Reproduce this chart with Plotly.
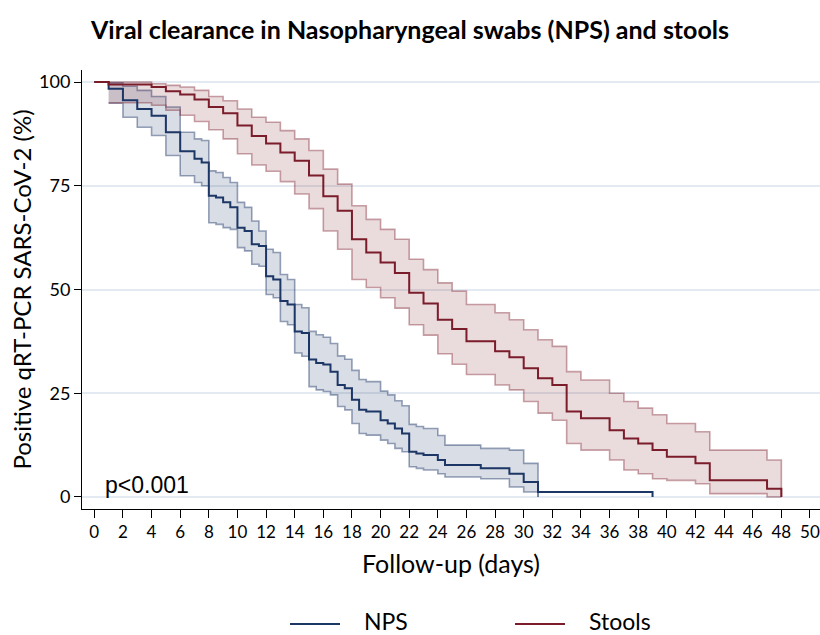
import plotly.graph_objects as go

# Kaplan-Meier estimates (days, % still positive)
nps_days = [0, 1, 2, 3, 4, 5, 6, 7, 7.5, 8, 8.5, 9, 9.5, 10, 10.5, 11, 11.5, 12, 12.5, 13, 13.5,
            14, 14.5, 15, 15.5, 16, 16.5, 17, 17.5, 18, 18.5, 19, 20, 20.5, 21, 21.5, 22, 22.5,
            23, 24, 24.5, 27, 29, 30, 31, 39]
nps_surv = [100, 98.4, 95.6, 93.5, 91.9, 87.9, 83.3, 81.5, 80.6, 72.6, 72.2, 71, 69.8, 64.9, 64.1,
            60.9, 60.5, 53.2, 52.4, 47.2, 46.4, 39.9, 39.5, 33.1, 32.3, 31.9, 30.2, 27, 26.2, 23.4,
            21, 20.6, 18.5, 17.7, 16.5, 15.3, 10.9, 10.5, 10.1, 8.9, 7.7, 6.9, 5.6, 3.6, 1.2, 0]

nps_ci_days = nps_days[1:-1]
nps_upper = [99.8, 99, 98, 96.5, 94, 87.9, 86.3, 85.9, 78.6, 78.2, 77, 75.8, 71, 69.8, 66.5, 64.1,
             59.7, 58.9, 53.6, 52.4, 46.4, 45.6, 39.9, 39.1, 38.5, 37, 34, 33.2, 30.5, 28.3, 27.8,
             25.5, 24.6, 23.2, 22, 17.5, 17, 16.5, 14.8, 12.5, 11.7, 11.3, 8.1, 0]
nps_lower = [94.9, 91.5, 89.1, 87.1, 82.3, 77.4, 75.8, 75.0, 66.1, 65.7, 64.9, 64.5, 60.1, 59.3,
             56.1, 55.6, 48.8, 48, 42.3, 41.5, 34.7, 33.9, 26.6, 25.8, 25.4, 24.6, 21.8, 21, 17.7,
             15.3, 14.9, 13.7, 12.9, 11.7, 10.9, 7.3, 6.9, 6.5, 5.6, 4.8, 4.4, 2.4, 1.2, 0]

stool_days = [0, 1, 4, 5, 6, 7, 8, 9, 10, 11, 12, 13, 14, 15, 16, 17, 18, 19, 20, 21, 22, 23, 24,
              25, 26, 28, 29, 30, 31, 32, 33, 34, 36, 37, 38, 39, 40, 42, 43, 47, 48]
stool_surv = [100, 99.4, 98.8, 97.8, 97, 95.8, 94, 92.5, 89.5, 87, 85.2, 83, 81, 77.5, 72.5, 69,
              62.1, 58.9, 56.5, 54, 49.2, 46.6, 42.7, 40.5, 37.5, 35.1, 33.7, 31, 28.6, 27, 20.6,
              19, 16.1, 14.1, 12.9, 11.3, 9.7, 8.1, 4, 2, 0]

stool_ci_days = stool_days[1:]
stool_upper = [100, 99.6, 99.2, 98.8, 98, 96.5, 95.5, 93.5, 91.5, 90.3, 88.3, 86.3, 83.5, 79, 75.4,
               70.2, 66.9, 64.5, 62.1, 57.3, 54.8, 51.6, 49.6, 46.4, 44.4, 42.7, 40.3, 37.9, 36.3,
               30.2, 28.2, 25, 23, 21.4, 19.8, 17.7, 15.7, 11.3, 8.9, 0]
stool_lower = [95, 94.4, 93.2, 92, 90.5, 88.5, 86.3, 82.7, 80, 78.5, 76, 73, 69.5, 64.1, 59.7, 52.4,
               50.5, 48, 45.5, 41.5, 39, 34.5, 32, 29.5, 27, 25.8, 23, 20.2, 18.5, 12.9, 11.3, 8.9,
               6.5, 5.6, 4.4, 4, 3.2, 0.8, 0, 0]

x_ticks = list(range(0, 51, 2))
y_ticks = [0, 25, 50, 75, 100]
legend_names = ["NPS", "Stools"]

NAVY = "#1c3666"
NAVY_EDGE = "rgba(28,54,102,0.45)"
NAVY_FILL = "rgba(28,54,102,0.17)"
RED = "#7b1c2a"
RED_EDGE = "rgba(123,28,42,0.40)"
RED_FILL = "rgba(123,28,42,0.16)"
FONT = "Lato"

# figure and plot area in pixels
W, H = 820, 635
L, R, T, B = 82, 820, 70, 509


def px_x(px):
    return (px - L) / (R - L)


def px_y(py):
    return (B - py) / (B - T)


fig = go.Figure()


def add_band(days, lower, upper, edge, fill):
    fig.add_trace(go.Scatter(x=days, y=lower, mode="lines", line=dict(shape="hv", color=edge, width=1.6),
                             showlegend=False, hoverinfo="skip"))
    fig.add_trace(go.Scatter(x=days, y=upper, mode="lines", line=dict(shape="hv", color=edge, width=1.6),
                             fill="tonexty", fillcolor=fill, showlegend=False, hoverinfo="skip"))


add_band(nps_ci_days, nps_lower, nps_upper, NAVY_EDGE, NAVY_FILL)
add_band(stool_ci_days, stool_lower, stool_upper, RED_EDGE, RED_FILL)

fig.add_trace(go.Scatter(x=nps_days, y=nps_surv, mode="lines", name=legend_names[0],
                         line=dict(shape="hv", color=NAVY, width=2), showlegend=False))
fig.add_trace(go.Scatter(x=stool_days, y=stool_surv, mode="lines", name=legend_names[1],
                         line=dict(shape="hv", color=RED, width=2), showlegend=False))

fig.add_annotation(x=0.6, y=3, xref="x", yref="y", text="p<0.001", showarrow=False,
                   xanchor="left", yanchor="middle",
                   font=dict(family="Liberation Sans", size=23, color="black"))

# hand-drawn legend below the plot
for name, color, x0 in zip(legend_names, [NAVY, RED], [290, 515]):
    fig.add_shape(type="line", xref="paper", yref="paper",
                  x0=px_x(x0), x1=px_x(x0 + 50), y0=px_y(624), y1=px_y(624),
                  line=dict(color=color, width=2))
    fig.add_annotation(x=px_x(x0 + 72), y=px_y(621), xref="paper", yref="paper", text=name,
                       showarrow=False, xanchor="left", yanchor="middle",
                       font=dict(family=FONT, size=23, color="black"))

fig.update_layout(
    width=W, height=H,
    margin=dict(l=L, r=W - R, t=T, b=H - B),
    paper_bgcolor="white", plot_bgcolor="white",
    font=dict(family=FONT, color="black"),
    showlegend=False,
    title=dict(text="<b>Viral clearance in Nasopharyngeal swabs (NPS) and stools</b>",
               x=410 / W, xref="container", xanchor="center", y=1 - 30 / H,
               yanchor="middle", font=dict(family=FONT, size=25, color="black")),
    xaxis=dict(range=[-0.86, 50.7], tickvals=x_ticks, showgrid=False, zeroline=False,
               showline=True, linecolor="black", linewidth=1, ticks="outside", ticklen=8,
               tickcolor="black", tickfont=dict(size=17), automargin=False,
               title=dict(text="Follow-up (days)", font=dict(size=25), standoff=14)),
    yaxis=dict(range=[-2.9, 102.9], tickvals=y_ticks, showgrid=True, gridcolor="#e3eaf1",
               gridwidth=1.5, zeroline=False, showline=True, linecolor="black", linewidth=1,
               ticks="outside", ticklen=7, tickcolor="black", tickfont=dict(size=18),
               automargin=False,
               title=dict(text="Positive qRT-PCR SARS-CoV-2 (%)", font=dict(size=24), standoff=0)),
)

# drop the browser's default 8px page margin so the figure fills the window
fig.write_html("out.html", config={"displayModeBar": False},
               post_script="document.body.style.margin = '0';")
